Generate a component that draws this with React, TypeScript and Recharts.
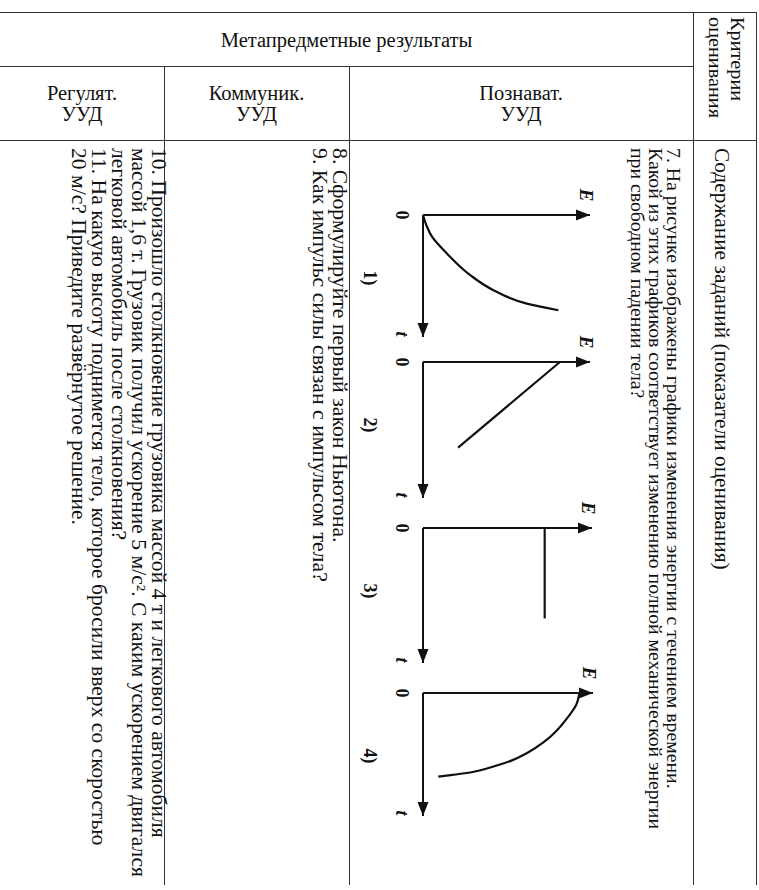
import React from "react";
import { LineChart, Line, XAxis, YAxis, ReferenceLine, ReferenceDot } from "recharts";

// E(t) graphs, both values as a fraction of the axis length (arrow tip = 1)
const graph1T = [0, 0.09, 0.178, 0.315, 0.493, 0.616, 0.726, 0.781];
const graph1E = [0, 0.022, 0.054, 0.143, 0.283, 0.422, 0.622, 0.811];
const graph2T = [0, 0.63];
const graph2E = [0.82, 0.21];
const graph3T = [0, 0.67];
const graph3E = [0.72, 0.72];
const graph4T = [0, 0.1, 0.2, 0.3, 0.4, 0.49, 0.55, 0.6, 0.64, 0.68];
const graph4E = [0.92, 0.9, 0.85, 0.79, 0.71, 0.61, 0.52, 0.41, 0.3, 0.09];
const graphLabels = ["1)", "2)", "3)", "4)"];

const headerTop = "Метапредметные результаты";
const subHeaders = [["Регулят.", "УУД"], ["Коммуник.", "УУД"], ["Познават.", "УУД"]];
const criteriaHeader = ["Критерии", "оценивания"];
const contentHeader = ["Содержание заданий (показатели оценивания)"];
const question7 = [
  "7. На рисунке изображены графики изменения энергии с течением времени.",
  "Какой из этих графиков соответствует изменению полной механической энергии",
  "при свободном падении тела?",
];
const questions89 = ["8. Сформулируйте первый закон Ньютона.", "9. Как импульс силы связан с импульсом тела?"];
const questions1011 = [
  "10. Произошло столкновение грузовика массой 4 т и легкового автомобиля",
  "массой 1,6 т. Грузовик получил ускорение 5 м/с². С каким ускорением двигался",
  "легковой автомобиль после столкновения?",
  "11. На какую высоту поднимется тело, которое бросили вверх со скоростью",
  "20 м/с? Приведите развёрнутое решение.",
];

const INK = "#111";
const LINE = "#333";
const FONT = "'Liberation Serif', 'Times New Roman', serif";

// rotated (90deg cw) text blocks: centre x of each line, start y, stretch along the line
type Block = { lines: string[]; cx: number[]; y0: number; fs: number; k: number };
const blocks: Block[] = [
  { lines: criteriaHeader, cx: [736, 714], y0: 17, fs: 19.5, k: 1.04 },
  { lines: contentHeader, cx: [720], y0: 148, fs: 20, k: 1.07 },
  { lines: question7, cx: [672, 654, 636], y0: 148, fs: 19, k: 1.04 },
  { lines: questions89, cx: [338, 318], y0: 148, fs: 20, k: 1.09 },
  { lines: questions1011, cx: [157, 137, 117, 97, 77], y0: 148, fs: 20, k: 1.08 },
];

function RotatedTexts() {
  return (
    <svg width={759} height={890} style={{ position: "absolute", left: 0, top: 0 }}>
      {blocks.map((b, bi) =>
        b.lines.map((l, i) => (
          <text
            key={bi + "-" + i}
            transform={`translate(${b.cx[i] - 0.27 * b.fs},${b.y0}) rotate(90) scale(${b.k},1)`}
            fontSize={b.fs}
            fontFamily={FONT}
            fill={INK}
          >
            {l}
          </text>
        ))
      )}
    </svg>
  );
}

const arrowRight = (p: any) => (
  <path d={`M${p.cx},${p.cy} L${p.cx - 14},${p.cy - 5.5} L${p.cx - 14},${p.cy + 5.5} Z`} fill={INK} />
);
const arrowUp = (p: any) => (
  <path d={`M${p.cx},${p.cy} L${p.cx - 5.5},${p.cy + 14} L${p.cx + 5.5},${p.cy + 14} Z`} fill={INK} />
);

function EnergyGraph({ ts, es, label, ox, oy, tLen, eLen }: { ts: number[]; es: number[]; label: string; ox: number; oy: number; tLen: number; eLen: number }) {
  const data = ts.map((t, i) => ({ t, e: es[i] }));
  const ml = 40, mt = 10, mr = 10, mb = 70;
  const W = ml + tLen + mr;
  const H = mt + eLen + mb;
  const baseV = mt + eLen;
  const lab: React.CSSProperties = {
    position: "absolute",
    transform: "translate(-50%, -50%)",
    fontWeight: "bold",
    fontSize: 18,
    lineHeight: "18px",
    color: INK,
  };
  return (
    <div
      style={{
        position: "absolute",
        left: ox + eLen + mt,
        top: oy - ml,
        width: W,
        height: H,
        transform: "rotate(90deg)",
        transformOrigin: "0 0",
      }}
    >
      <LineChart width={W} height={H} data={data} margin={{ top: mt, right: mr, bottom: mb, left: ml }}>
        <XAxis type="number" dataKey="t" domain={[0, 1]} hide />
        <YAxis type="number" domain={[0, 1]} hide />
        <ReferenceLine x={0} stroke={INK} strokeWidth={2} />
        <ReferenceLine y={0} stroke={INK} strokeWidth={2} />
        <ReferenceDot x={1} y={0} r={0} shape={arrowRight} />
        <ReferenceDot x={0} y={1} r={0} shape={arrowUp} />
        <Line dataKey="e" type="monotone" stroke={INK} strokeWidth={2.2} dot={false} isAnimationActive={false} />
      </LineChart>
      <span style={{ ...lab, left: ml, top: baseV + 21 }}>0</span>
      <span style={{ ...lab, left: ml + tLen - 3, top: baseV + 21, fontStyle: "italic" }}>t</span>
      <span style={{ ...lab, left: ml - 20, top: baseV - eLen + 4, fontStyle: "italic", fontSize: 19 }}>E</span>
      <span style={{ ...lab, left: ml + 63, top: baseV + 53 }}>{label}</span>
    </div>
  );
}

function HLine({ x1, x2, y }: { x1: number; x2: number; y: number }) {
  return <div style={{ position: "absolute", left: x1, top: y, width: x2 - x1, height: 1.4, background: LINE }} />;
}
function VLine({ x, y1, y2 }: { x: number; y1: number; y2: number }) {
  return <div style={{ position: "absolute", left: x, top: y1, width: 1.4, height: y2 - y1, background: LINE }} />;
}

const cellCenter: React.CSSProperties = {
  position: "absolute",
  display: "flex",
  flexDirection: "column",
  alignItems: "center",
  justifyContent: "center",
  fontSize: 20.5,
  lineHeight: "21px",
  color: INK,
};

export default function App() {
  const colX = [0, 164, 349, 693];
  return (
    <div
      style={{
        position: "fixed",
        left: 0,
        top: 0,
        width: 759,
        height: 890,
        background: "#fff",
        overflow: "hidden",
        fontFamily: FONT,
      }}
    >
      {/* borders */}
      <HLine x1={0} x2={757} y={12} />
      <HLine x1={0} x2={693} y={66} />
      <HLine x1={0} x2={757} y={140} />
      <VLine x={164} y1={66} y2={885} />
      <VLine x={349} y1={66} y2={885} />
      <VLine x={693} y1={12} y2={885} />
      <VLine x={756} y1={12} y2={885} />

      {/* horizontal headers */}
      <div style={{ ...cellCenter, left: 0, top: 12, width: 693, height: 56 }}>{headerTop}</div>
      {subHeaders.map((h, i) => (
        <div key={i} style={{ ...cellCenter, left: colX[i], top: 66, width: colX[i + 1] - colX[i], height: 76 }}>
          {h.map((l, j) => (
            <div key={j}>{l}</div>
          ))}
        </div>
      ))}

      <RotatedTexts />

      {/* graphs */}
      <EnergyGraph ts={graph1T} es={graph1E} label={graphLabels[0]} ox={423} oy={215} tLen={122} eLen={167} />
      <EnergyGraph ts={graph2T} es={graph2E} label={graphLabels[1]} ox={423} oy={362} tLen={136} eLen={167} />
      <EnergyGraph ts={graph3T} es={graph3E} label={graphLabels[2]} ox={423} oy={528} tLen={135} eLen={169} />
      <EnergyGraph ts={graph4T} es={graph4E} label={graphLabels[3]} ox={423} oy={693} tLen={123} eLen={170} />
    </div>
  );
}
